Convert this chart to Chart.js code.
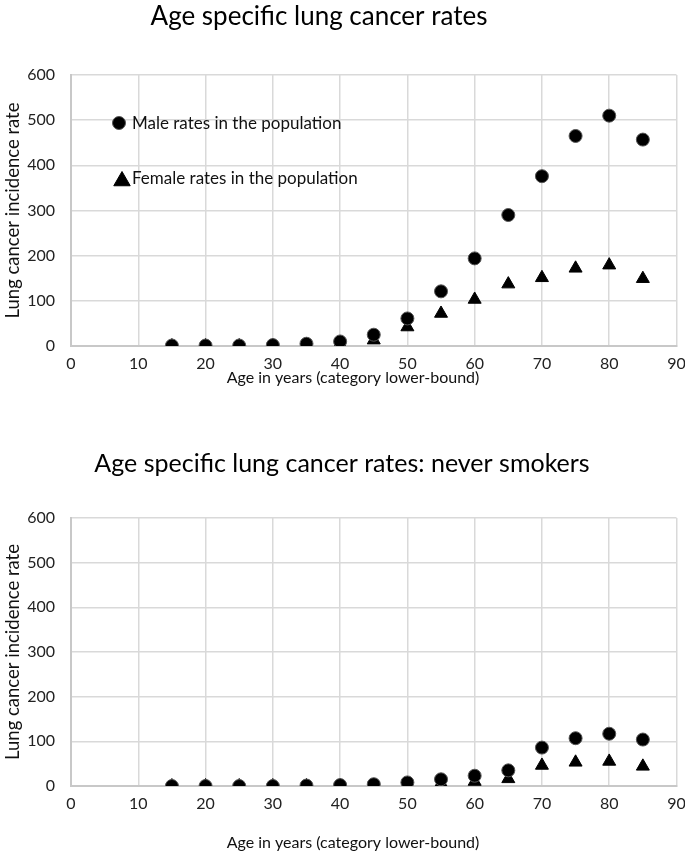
<!DOCTYPE html>
<html lang="en">
<head>
  <meta charset="UTF-8" />
  <title>Age specific lung cancer rates</title>
  <script src="https://cdn.jsdelivr.net/npm/chart.js@4.4.1/dist/chart.umd.min.js"></script>
  <style>
    body { margin: 0; background: #fff; }
    .graf { width: 685px; height: 428px; }
  </style>
</head>
<body>
  <div class="graf"><canvas id="graficoTodos" width="685" height="428"></canvas></div>
  <div class="graf"><canvas id="graficoNunca" width="685" height="428"></canvas></div>

<script>
// idades (limite inferior da categoria)
const idades = [15, 20, 25, 30, 35, 40, 45, 50, 55, 60, 65, 70, 75, 80, 85];

// população total
const homensTodos = [1, 1, 1, 2, 5, 10, 25, 61, 121, 194, 290, 376, 465, 510, 457];
const mulheresTodos = [0, 0, 0, 0, 2, 5, 13, 42, 72, 103, 137, 151, 172, 179, 149];

// nunca fumantes
const homensNunca = [0, 0, 0, 0, 1, 2, 4, 8, 15, 23, 35, 86, 107, 117, 104];
const mulheresNunca = [0, 0, 0, 0, 0, 0, 1, 3, 6, 10, 16, 46, 53, 55, 44];

const rotuloHomens = "Male rates in the population";
const rotuloMulheres = "Female rates in the population";
const titulos = ["Age specific lung cancer rates", "Age specific lung cancer rates: never smokers"];
const tituloX = "Age in years (category lower-bound)";
const tituloY = "Lung cancer incidence rate";

const fonte = "Lato, 'Open Sans', sans-serif";

// títulos do gráfico e do eixo x (não ficam centrados no original)
const titulosLivres = {
  id: "titulosLivres",
  afterDraw(chart, args, opts) {
    const ctx = chart.ctx;
    ctx.save();
    ctx.textAlign = "center";
    ctx.textBaseline = "middle";
    ctx.font = opts.tamanho + "px " + fonte;
    ctx.fillStyle = "#000";
    ctx.fillText(opts.texto, opts.x, opts.y);
    ctx.font = "16px " + fonte;
    ctx.fillStyle = "#111";
    ctx.fillText(tituloX, 353, opts.yEixo);
    ctx.restore();
  }
};

// legenda desenhada dentro da área do gráfico
const legendaDentro = {
  id: "legendaDentro",
  afterDraw(chart, args, opts) {
    if (!opts.mostrar) return;
    const ctx = chart.ctx;
    const area = chart.chartArea;
    const raios = [6.5, 9.5];
    const deslY = [48, 106];
    ctx.save();
    chart.data.datasets.forEach((ds, i) => {
      const x = area.left + 48 + i * 3;
      const y = area.top + deslY[i];
      ctx.fillStyle = "#000";
      ctx.strokeStyle = i == 0 ? "#555" : "#000";
      ctx.lineWidth = 1;
      Chart.helpers.drawPoint(ctx, { pointStyle: ds.pointStyle, rotation: 0, radius: raios[i], borderWidth: 1 }, x, y);
      ctx.font = "17px " + fonte;
      ctx.fillStyle = "#111";
      ctx.textBaseline = "middle";
      ctx.fillText(ds.label, area.left + 61, i == 0 ? y + 1 : y - 2);
    });
    ctx.restore();
  }
};

function pontos(valores) {
  return idades.map((a, i) => ({ x: a, y: valores[i] }));
}

function montar(id, titulo, homens, mulheres, cfg) {
  return new Chart(document.getElementById(id), {
    type: "scatter",
    data: {
      datasets: [
        {
          label: rotuloHomens,
          data: pontos(homens),
          pointStyle: "circle",
          pointRadius: 6.5,
          backgroundColor: "#000",
          borderColor: "#555",
          borderWidth: 1
        },
        {
          label: rotuloMulheres,
          data: pontos(mulheres),
          pointStyle: "triangle",
          pointRadius: 7.5,
          backgroundColor: "#000",
          borderColor: "#000",
          borderWidth: 1
        }
      ]
    },
    options: {
      responsive: false,
      animation: false,
      layout: { padding: { left: 0, right: 7, top: cfg.topo, bottom: 0 } },
      plugins: {
        legend: { display: false },
        tooltip: { enabled: false },
        title: { display: false },
        titulosLivres: { texto: titulo, x: cfg.tituloX, y: cfg.tituloY, tamanho: cfg.tituloTam, yEixo: cfg.yEixo },
        legendaDentro: { mostrar: cfg.legenda }
      },
      scales: {
        x: {
          type: "linear",
          min: 0,
          max: 90,
          ticks: { stepSize: 10, color: "#222", font: { family: fonte, size: 16 }, padding: 8 },
          grid: { color: "#d9d9d9", lineWidth: 1.5, drawTicks: false },
          border: { color: "#c8c8c8", width: 2 },
          title: { display: false },
          afterFit: s => {
            s.height = cfg.alturaX;
            s.paddingLeft = 0;
            s.paddingRight = 0;
          }
        },
        y: {
          min: 0,
          max: 600,
          ticks: { stepSize: 100, color: "#222", font: { family: fonte, size: 16 }, padding: 16 },
          grid: { color: "#d9d9d9", lineWidth: 1.5, drawTicks: false },
          border: { color: "#c8c8c8", width: 2 },
          title: {
            display: true,
            text: tituloY,
            color: "#111",
            font: { family: fonte, size: 18.5 },
            padding: { top: 2, bottom: 4 }
          },
          afterFit: s => { s.width = 71; }
        }
      }
    },
    plugins: [titulosLivres, legendaDentro]
  });
}

montar("graficoTodos", titulos[0], homensTodos, mulheresTodos,
  { topo: 75, tituloX: 319, tituloY: 17, tituloTam: 26, legenda: true, alturaX: 82, yEixo: 378 });
montar("graficoNunca", titulos[1], homensNunca, mulheresNunca,
  { topo: 90, tituloX: 342, tituloY: 36, tituloTam: 25, legenda: false, alturaX: 70, yEixo: 415 });
</script>
</body>
</html>
